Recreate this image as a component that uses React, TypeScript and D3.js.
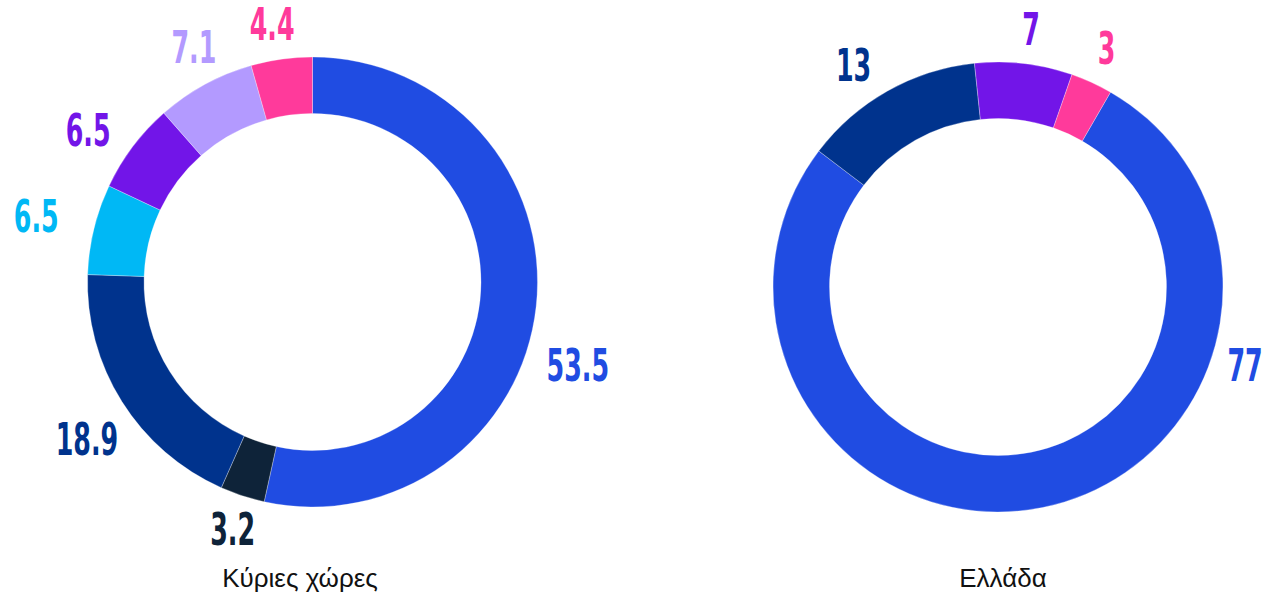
import React from "react";
import * as d3 from "d3";

// ---- Data ----
const leftTitle = "Κύριες χώρες";
const leftValues = [53.5, 3.2, 18.9, 6.5, 6.5, 7.1, 4.4];
const leftLabels = ["53.5", "3.2", "18.9", "6.5", "6.5", "7.1", "4.4"];
const leftColors = ["#204ce2", "#0e2339", "#00338d", "#00b8f5", "#7215e8", "#b39aff", "#ff3a9b"];

const rightTitle = "Ελλάδα";
const rightValues = [77, 13, 7, 3];
const rightLabels = ["77", "13", "7", "3"];
const rightColors = ["#204ce2", "#00338d", "#7215e8", "#ff3a9b"];

// ---- Layout (label placement, polar around each donut centre) ----
const leftLabelAngles = [107.4, 197.9, 235.1, 283.4, 304.1, 333.2, 351.1];
const leftLabelRadii = [278, 260, 275, 284, 271, 263, 261];
const rightLabelAngles = [107.5, 326.9, 7.3, 24.4];
const rightLabelRadii = [259, 264.5, 259.6, 262.5];

const W = 1267;
const H = 595;
const OUTER = 225;
const INNER = 168.5;

type DonutProps = {
  cx: number;
  cy: number;
  startDeg: number;
  values: number[];
  labels: string[];
  colors: string[];
  labelAngles: number[];
  labelRadii: number[];
  title: string;
  titleX: number;
};

function Donut(p: DonutProps) {
  const start = (p.startDeg * Math.PI) / 180;
  const pie = d3
    .pie<number>()
    .sort(null)
    .value((d) => d)
    .startAngle(start)
    .endAngle(start + 2 * Math.PI);
  const arcs = pie(p.values);
  const arc = d3.arc<d3.PieArcDatum<number>>().innerRadius(INNER).outerRadius(OUTER);
  return (
    <g>
      <g transform={`translate(${p.cx},${p.cy})`}>
        {arcs.map((a, i) => (
          <path key={i} d={arc(a) || ""} fill={p.colors[i]} stroke="#ffffff" strokeWidth={0.3} />
        ))}
        {arcs.map((a, i) => {
          const ang = (p.labelAngles[i] * Math.PI) / 180;
          const r = p.labelRadii[i];
          const x = r * Math.sin(ang);
          const y = -r * Math.cos(ang);
          return (
            <g key={"l" + i} transform={`translate(${x},${y}) scale(0.64,1)`}>
              <text
                textAnchor="middle"
                dy="0.36em"
                fill={p.colors[i]}
                fontFamily="'DejaVu Sans Condensed', 'DejaVu Sans', sans-serif"
                fontWeight="bold"
                fontSize={44}
              >
                {p.labels[i]}
              </text>
            </g>
          );
        })}
      </g>
      <text
        x={p.titleX}
        y={587}
        textAnchor="middle"
        fontFamily="'Liberation Sans', Arial, sans-serif"
        fontSize={26}
        fill="#111"
      >
        {p.title}
      </text>
    </g>
  );
}

export default function App() {
  return (
    <svg
      width={W}
      height={H}
      viewBox={`0 0 ${W} ${H}`}
      style={{ position: "absolute", left: 0, top: 0, display: "block", background: "#fff" }}
    >
      <Donut
        cx={312.5}
        cy={282}
        startDeg={0}
        values={leftValues}
        labels={leftLabels}
        colors={leftColors}
        labelAngles={leftLabelAngles}
        labelRadii={leftLabelRadii}
        title={leftTitle}
        titleX={300}
      />
      <Donut
        cx={998}
        cy={287}
        startDeg={30}
        values={rightValues}
        labels={rightLabels}
        colors={rightColors}
        labelAngles={rightLabelAngles}
        labelRadii={rightLabelRadii}
        title={rightTitle}
        titleX={1003}
      />
    </svg>
  );
}
